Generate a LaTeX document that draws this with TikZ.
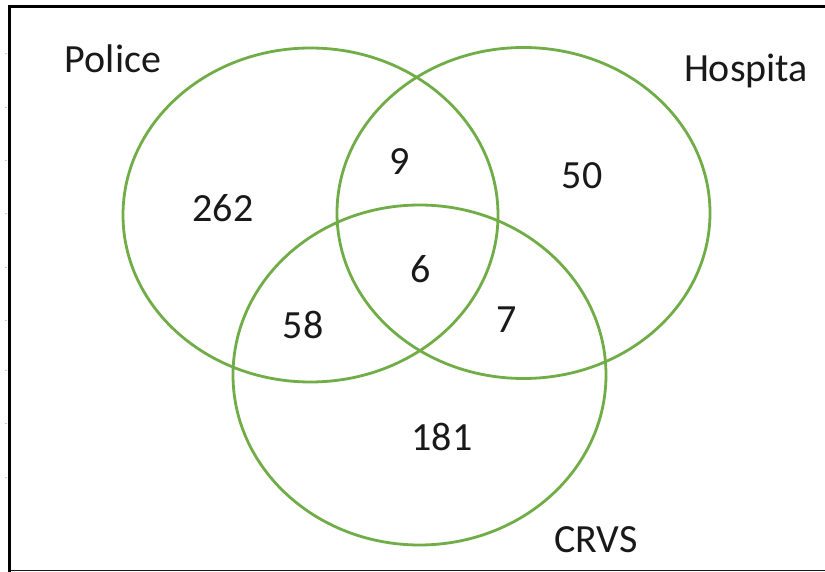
\documentclass[tikz,border=0pt]{standalone}
\usepackage{fontspec}
\setmainfont{Carlito}
\definecolor{venngreen}{RGB}{112,173,71}
\definecolor{tickgray}{RGB}{200,200,200}
\begin{document}
\begin{tikzpicture}[x=1pt,y=-1pt,
  setline/.style={draw=venngreen,line width=2.8pt},
  lbl/.style={anchor=base,inner sep=0pt,font=\fontsize{40}{44}\selectfont,text=black!90}]
\useasboundingbox (0,0) rectangle (825,572);
\fill[white] (0,0) rectangle (825,572);
% frame
\draw[line width=1.5pt,black!90] (9,570.5) -- (825,570.5);
\draw[line width=2.6pt,black] (8.5,6.5) -- (825,6.5);
\draw[line width=3pt,black] (9.5,5.2) -- (9.5,572);
\foreach \yy in {53,107,160,213,267,320,370,423,477}
  \draw[tickgray,line width=0.8pt] (4.5,\yy) -- (7,\yy);
% sets
\draw[setline] (310.5,215) ellipse [x radius=187.5,y radius=167];
\draw[setline] (523.5,213) ellipse [x radius=186.5,y radius=165.5];
\draw[setline] (419.5,375) ellipse [x radius=186.5,y radius=170];
% labels
\node[lbl] (police) at (113,73) {Police};
\node[lbl] (hosp) at (746,82) {Hospita};
\node[lbl] (crvs) at (596,552) {CRVS};
\node[lbl] (n262) at (223,222) {262};
\node[lbl] (n9) at (400,175) {9};
\node[lbl] (n50) at (582,189) {50};
\node[lbl] (n6) at (421,283) {6};
\node[lbl] (n58) at (303,338) {58};
\node[lbl] (n7) at (507,332) {7};
\node[lbl] (n181) at (442,450) {181};
\end{tikzpicture}
\end{document}
